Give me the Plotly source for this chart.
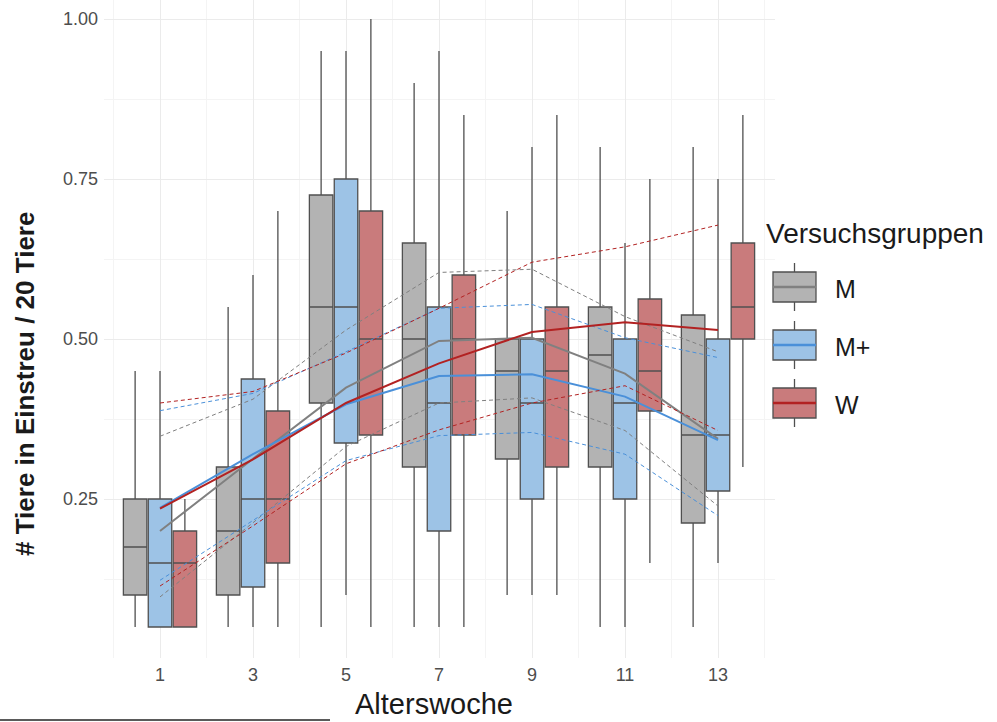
import plotly.graph_objects as go

weeks = [1, 3, 5, 7, 9, 11, 13]
groups = ["M", "M+", "W"]

# Box statistics per group
m_q1 = [0.10, 0.10, 0.40, 0.30, 0.3125, 0.30, 0.2125]
m_med = [0.175, 0.20, 0.55, 0.50, 0.45, 0.475, 0.35]
m_q3 = [0.25, 0.30, 0.725, 0.65, 0.50, 0.55, 0.5375]
m_lo = [0.05, 0.05, 0.05, 0.05, 0.10, 0.05, 0.05]
m_hi = [0.45, 0.55, 0.95, 0.90, 0.70, 0.80, 0.80]

mp_q1 = [0.05, 0.1125, 0.3375, 0.20, 0.25, 0.25, 0.2625]
mp_med = [0.15, 0.25, 0.55, 0.40, 0.40, 0.40, 0.35]
mp_q3 = [0.25, 0.4375, 0.75, 0.55, 0.50, 0.50, 0.50]
mp_lo = [0.05, 0.05, 0.10, 0.05, 0.10, 0.05, 0.15]
mp_hi = [0.45, 0.60, 0.95, 0.95, 0.80, 0.65, 0.75]

w_q1 = [0.05, 0.15, 0.35, 0.35, 0.30, 0.3875, 0.50]
w_med = [0.15, 0.25, 0.50, 0.50, 0.45, 0.45, 0.55]
w_q3 = [0.20, 0.3875, 0.70, 0.60, 0.55, 0.5625, 0.65]
w_lo = [0.05, 0.05, 0.05, 0.05, 0.10, 0.15, 0.30]
w_hi = [0.25, 0.70, 1.00, 0.85, 0.85, 0.75, 0.85]

# Mean lines and their bands
m_mean = [0.200, 0.313, 0.424, 0.497, 0.502, 0.446, 0.344]
m_upper = [0.348, 0.406, 0.514, 0.604, 0.609, 0.535, 0.480]
m_lower = [0.097, 0.213, 0.332, 0.400, 0.408, 0.357, 0.239]

mp_mean = [0.236, 0.320, 0.398, 0.442, 0.445, 0.410, 0.342]
mp_upper = [0.388, 0.415, 0.480, 0.548, 0.554, 0.502, 0.471]
mp_lower = [0.123, 0.216, 0.310, 0.349, 0.354, 0.320, 0.224]

w_mean = [0.235, 0.312, 0.400, 0.462, 0.511, 0.526, 0.514]
w_upper = [0.400, 0.418, 0.478, 0.548, 0.620, 0.644, 0.678]
w_lower = [0.114, 0.208, 0.305, 0.358, 0.400, 0.427, 0.357]

x_ticks = [1, 3, 5, 7, 9, 11, 13]
y_ticks = [0.25, 0.50, 0.75, 1.00]
y_ticktext = ["0.25", "0.50", "0.75", "1.00"]

x_title = "Alterswoche"
y_title = "# Tiere in Einstreu / 20 Tiere"
legend_title = "Versuchsgruppen"

fills = {"M": "#b3b3b3", "M+": "#9dc3e6", "W": "#c97b7c"}
lines = {"M": "#808080", "M+": "#4a90d9", "W": "#b22222"}

box_data = {
    "M": (m_q1, m_med, m_q3, m_lo, m_hi),
    "M+": (mp_q1, mp_med, mp_q3, mp_lo, mp_hi),
    "W": (w_q1, w_med, w_q3, w_lo, w_hi),
}
line_data = {
    "M": (m_mean, m_upper, m_lower),
    "M+": (mp_mean, mp_upper, mp_lower),
    "W": (w_mean, w_upper, w_lower),
}

W, H = 997, 722
L, R, T, B = 104, 775, 0, 658  # plot area in pixels
PW, PH = R - L, B - T


def px(x):
    return (x - L) / PW


def py(y):
    return (B - y) / PH


fig = go.Figure()
for g in groups:
    q1, med, q3, lo, hi = box_data[g]
    fig.add_trace(go.Box(
        x=weeks, q1=q1, median=med, q3=q3, lowerfence=lo, upperfence=hi,
        name=g, fillcolor=fills[g], line=dict(color="#505050", width=1.3),
        whiskerwidth=0, boxpoints=False,
    ))

for g in groups:
    mean, up, low = line_data[g]
    fig.add_trace(go.Scatter(x=weeks, y=mean, mode="lines",
                             line=dict(color=lines[g], width=2)))
    fig.add_trace(go.Scatter(x=weeks, y=up, mode="lines",
                             line=dict(color=lines[g], width=1, dash="4px,3px")))
    fig.add_trace(go.Scatter(x=weeks, y=low, mode="lines",
                             line=dict(color=lines[g], width=1, dash="4px,3px")))

# custom legend (box keys with line overlay)
shapes = []
annotations = []
key_centers = [287, 345, 403]
for g, yc in zip(groups, key_centers):
    shapes.append(dict(type="line", xref="paper", yref="paper",
                       x0=px(794.5), x1=px(794.5), y0=py(yc - 24), y1=py(yc + 24),
                       line=dict(color="#505050", width=1.3)))
    shapes.append(dict(type="rect", xref="paper", yref="paper",
                       x0=px(773), x1=px(816), y0=py(yc - 15), y1=py(yc + 15),
                       fillcolor=fills[g], line=dict(color="#505050", width=1.3)))
    shapes.append(dict(type="line", xref="paper", yref="paper",
                       x0=px(773), x1=px(816), y0=py(yc), y1=py(yc),
                       line=dict(color=lines[g], width=2.5)))
    annotations.append(dict(text=g, xref="paper", yref="paper", x=px(833), y=py(yc + 2),
                            xanchor="left", yanchor="middle", showarrow=False,
                            font=dict(size=25, color="#1a1a1a")))

annotations.append(dict(text=legend_title, xref="paper", yref="paper", x=px(764), y=py(233),
                        xanchor="left", yanchor="middle", showarrow=False,
                        font=dict(size=28, color="#1a1a1a")))
annotations.append(dict(text=x_title, xref="paper", yref="paper", x=px(434), y=py(721),
                        xanchor="center", yanchor="bottom", showarrow=False,
                        font=dict(size=29, color="#1a1a1a"), borderpad=0))
annotations.append(dict(text="<b>" + y_title + "</b>", xref="paper", yref="paper",
                        x=px(25), y=py(384), xanchor="center", yanchor="middle",
                        textangle=-90, showarrow=False,
                        font=dict(size=26, color="#1a1a1a")))

# thin dark line at the very bottom of the reference image
shapes.append(dict(type="line", xref="paper", yref="paper",
                   x0=px(0), x1=px(330), y0=py(720), y1=py(720),
                   line=dict(color="#5a5a5a", width=2)))

fig.update_layout(
    width=W, height=H,
    margin=dict(l=L, r=W - R, t=T, b=H - B, autoexpand=False),
    paper_bgcolor="white", plot_bgcolor="white",
    boxmode="group", boxgap=0.1975, boxgroupgap=0.056,
    font=dict(family="Liberation Sans, Arial, sans-serif", color="#000000"),
    showlegend=False,
    xaxis=dict(
        range=[1 + (L - 160) / 46.5, 1 + (R - 160) / 46.5],
        tickvals=x_ticks, ticktext=[str(v) for v in x_ticks],
        showgrid=True, gridcolor="#ebebeb", gridwidth=1, zeroline=False,
        tickfont=dict(size=18, color="#4d4d4d"), ticks="", ticklabelstandoff=4,
        minor=dict(tickvals=[0, 2, 4, 6, 8, 10, 12, 14], showgrid=True,
                   gridcolor="#f4f4f4", gridwidth=1),
    ),
    yaxis=dict(
        range=[(659 - B) / 640, (659 - T) / 640], tickvals=y_ticks, ticktext=y_ticktext,
        showgrid=True, gridcolor="#ebebeb", gridwidth=1, zeroline=False,
        tickfont=dict(size=18, color="#4d4d4d"), ticks="", ticklabelstandoff=5,
        minor=dict(tickvals=[0.125, 0.375, 0.625, 0.875], showgrid=True,
                   gridcolor="#f4f4f4", gridwidth=1),
    ),
    shapes=shapes,
    annotations=annotations,
)

fig.write_html("out.html", config={"displayModeBar": False},
               post_script="document.body.style.margin='0px';")
